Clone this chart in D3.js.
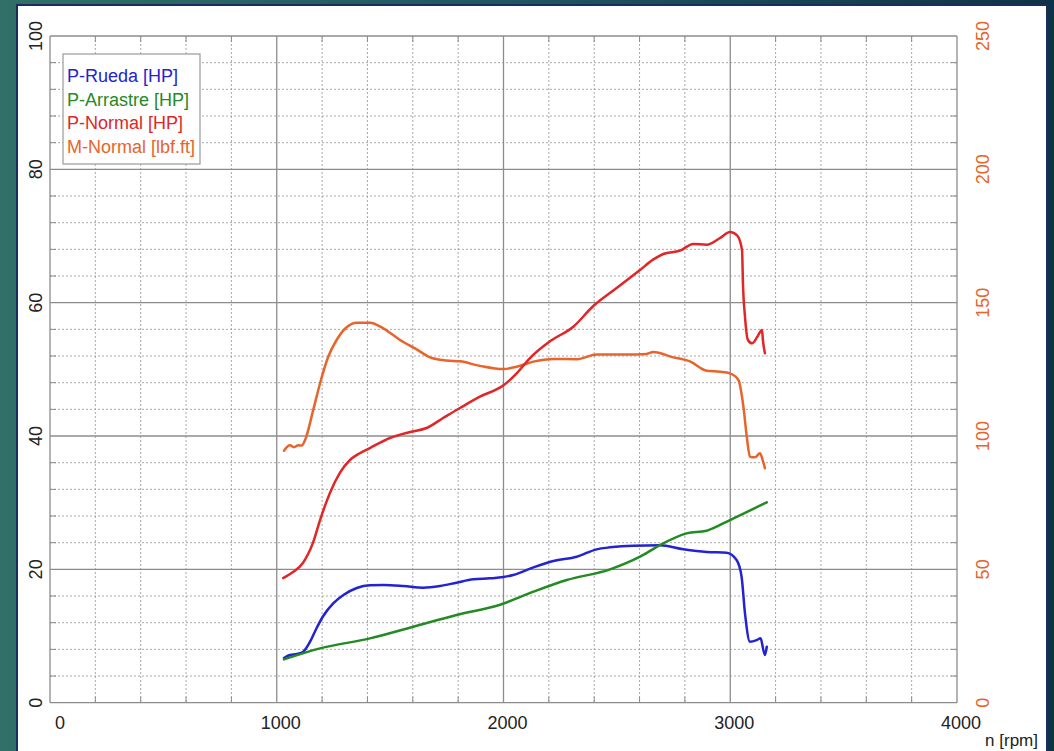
<!DOCTYPE html>
<html><head><meta charset="utf-8">
<script src="https://cdn.jsdelivr.net/npm/d3@7"></script>
<style>html,body{margin:0;padding:0;background:#1f5558;}svg{display:block;}</style>
</head><body>
<svg id="c" width="1054" height="751"></svg>
<script>
// ---- data ----
const xTicks = [0, 1000, 2000, 3000, 4000];
const yLeftTicks = [0, 20, 40, 60, 80, 100];
const yRightTicks = [0, 50, 100, 150, 200, 250];
const legendLabels = ["P-Rueda [HP]", "P-Arrastre [HP]", "P-Normal [HP]", "M-Normal [lbf.ft]"];
const xTitle = "n [rpm]";

const rpmRueda = [1032,1058,1088,1117,1147,1176,1205,1249,1294,1353,1411,1470,1558,1646,1720,1793,1867,1940,2000,2043,2132,2220,2323,2411,2470,2572,2690,2793,2896,2984,3028,3050,3065,3087,3117,3134,3146,3153,3161];
const hpRueda  = [6.7,7.15,7.3,7.65,9.15,11.2,13.0,14.9,16.15,17.2,17.6,17.65,17.5,17.25,17.5,18.0,18.5,18.65,18.85,19.15,20.3,21.25,21.9,23.0,23.3,23.55,23.6,23.0,22.6,22.5,21.4,18.9,13.4,9.15,9.4,9.65,7.9,7.15,8.4];

const rpmArrastre = [1032,1191,1411,1602,1793,1985,2132,2279,2470,2602,2690,2808,2896,2999,3161];
const hpArrastre  = [6.5,8.15,9.65,11.4,13.15,14.7,16.65,18.4,20.0,21.9,23.65,25.4,25.8,27.4,30.05];

const rpmNormal = [1028,1072,1116,1160,1191,1235,1279,1323,1360,1411,1499,1588,1661,1734,1808,1896,2000,2058,2117,2205,2308,2396,2499,2602,2661,2705,2778,2837,2896,2955,2999,3030,3052,3056,3065,3078,3096,3118,3140,3144,3153];
const hpNormal  = [18.7,19.6,21.0,24.0,27.4,31.5,34.5,36.4,37.3,38.2,39.7,40.6,41.2,42.7,44.2,45.9,47.6,49.4,51.7,54.2,56.4,59.5,62.2,64.9,66.5,67.3,67.8,68.8,68.7,69.7,70.6,70.1,67.9,62.9,57.9,54.4,53.9,54.8,55.9,54.4,52.4];

const rpmTorque = [1032,1058,1076,1095,1110,1125,1161,1191,1227,1264,1308,1353,1411,1470,1544,1617,1676,1749,1808,1896,2000,2058,2132,2220,2323,2411,2543,2631,2661,2749,2822,2896,2955,2999,3036,3058,3073,3087,3109,3131,3143,3153];
const lbfTorque = [94.5,96.5,95.8,96.5,96.4,98.5,109.8,119.8,129.7,136.0,140.8,142.5,142.5,140.4,136.0,132.5,129.5,128.3,128.0,126.3,125.1,126.0,127.9,128.9,128.8,130.6,130.6,130.8,131.5,129.5,128.0,124.5,124.1,123.5,121.0,111,99.7,92.2,92.0,93.5,91.0,87.9];

// ---- drawing ----
const svg = d3.select("#c");
const W = 1054, H = 751;
const L = 50, R = 957, T = 36, B = 702.7;

const defs = svg.append("defs");
const g = defs.append("linearGradient").attr("id","bg").attr("x1","0").attr("x2","1").attr("y1","0").attr("y2","0");
g.append("stop").attr("offset","0%").attr("stop-color","#2f7068");
g.append("stop").attr("offset","50%").attr("stop-color","#1f5560");
g.append("stop").attr("offset","100%").attr("stop-color","#0e3346");
svg.append("rect").attr("width",W).attr("height",H).attr("fill","url(#bg)");
svg.append("rect").attr("x",17).attr("y",5).attr("width",1030).attr("height",760)
  .attr("fill","#ffffff").attr("stroke","#1b2d5c").attr("stroke-width",2);

const x = d3.scaleLinear().domain([0,4000]).range([L,R]);
const yL = d3.scaleLinear().domain([0,100]).range([B,T]);
const yR = d3.scaleLinear().domain([0,250]).range([B,T]);

const grid = svg.append("g");
// minor grid
const minorX = d3.range(200,4000,200).filter(v => v % 1000 !== 0);
const minorY = d3.range(4,100,4).filter(v => v % 20 !== 0);
grid.selectAll(".mx").data(minorX).join("line")
  .attr("x1",d=>x(d)).attr("x2",d=>x(d)).attr("y1",T).attr("y2",B)
  .attr("stroke","#a8a8a8").attr("stroke-width",1).attr("stroke-dasharray","2,2");
grid.selectAll(".my").data(minorY).join("line")
  .attr("y1",d=>yL(d)).attr("y2",d=>yL(d)).attr("x1",L).attr("x2",R)
  .attr("stroke","#a8a8a8").attr("stroke-width",1).attr("stroke-dasharray","2,2");
// minor tick marks
minorX.forEach(v=>{
  grid.append("line").attr("x1",x(v)).attr("x2",x(v)).attr("y1",B).attr("y2",B-6).attr("stroke","#8a8a8a");
  grid.append("line").attr("x1",x(v)).attr("x2",x(v)).attr("y1",T).attr("y2",T+6).attr("stroke","#8a8a8a");
});
minorY.forEach(v=>{
  grid.append("line").attr("y1",yL(v)).attr("y2",yL(v)).attr("x1",L).attr("x2",L+6).attr("stroke","#8a8a8a");
  grid.append("line").attr("y1",yL(v)).attr("y2",yL(v)).attr("x1",R).attr("x2",R-6).attr("stroke","#8a8a8a");
});
// major grid
grid.selectAll(".Mx").data(xTicks).join("line")
  .attr("x1",d=>x(d)).attr("x2",d=>x(d)).attr("y1",T).attr("y2",B)
  .attr("stroke","#8c8c8c").attr("stroke-width",1.3);
grid.selectAll(".My").data(yLeftTicks).join("line")
  .attr("y1",d=>yL(d)).attr("y2",d=>yL(d)).attr("x1",L).attr("x2",R)
  .attr("stroke","#8c8c8c").attr("stroke-width",1.3);

// axis labels
const font = "Liberation Sans, Arial, sans-serif";
svg.selectAll(".xl").data(xTicks).join("text")
  .attr("x",d=>x(d)+ (d===0?10:4)).attr("y",729)
  .attr("text-anchor","middle").attr("font-family",font).attr("font-size",18).attr("fill","#222")
  .text(d=>d);
svg.selectAll(".yl").data(yLeftTicks).join("text")
  .attr("transform",d=>`translate(42,${yL(d)}) rotate(-90)`)
  .attr("text-anchor","middle").attr("font-family",font).attr("font-size",18).attr("fill","#222")
  .text(d=>d);
svg.selectAll(".yr").data(yRightTicks).join("text")
  .attr("transform",d=>`translate(989,${yR(d)}) rotate(-90)`)
  .attr("text-anchor","middle").attr("font-family",font).attr("font-size",18).attr("fill","#e8642a")
  .text(d=>d);
svg.append("text").attr("x",1038).attr("y",746).attr("text-anchor","end")
  .attr("font-family",font).attr("font-size",17).attr("fill","#222").text(xTitle);

// lines
const colors = ["#2323d2","#248a24","#e02626","#e8642a"];
const lineL = d3.line().x(d=>x(d[0])).y(d=>yL(d[1])).curve(d3.curveMonotoneX);
const lineR = d3.line().x(d=>x(d[0])).y(d=>yR(d[1])).curve(d3.curveMonotoneX);
const series = [
  {xs: rpmTorque, ys: lbfTorque, gen: lineR, c: colors[3]},
  {xs: rpmNormal, ys: hpNormal, gen: lineL, c: colors[2]},
  {xs: rpmRueda, ys: hpRueda, gen: lineL, c: colors[0]},
  {xs: rpmArrastre, ys: hpArrastre, gen: lineL, c: colors[1]},
];
series.forEach(s=>{
  svg.append("path").datum(d3.zip(s.xs, s.ys)).attr("d", s.gen)
    .attr("fill","none").attr("stroke",s.c).attr("stroke-width",2.5)
    .attr("stroke-linejoin","round").attr("stroke-linecap","round");
});

// legend
const lg = svg.append("g");
lg.append("rect").attr("x",63).attr("y",54).attr("width",137).attr("height",110)
  .attr("fill","#ffffff").attr("stroke","#9a9a9a").attr("stroke-width",1.2);
const legColors = [colors[0], colors[1], colors[2], colors[3]];
lg.selectAll("text").data(legendLabels).join("text")
  .attr("x",67).attr("y",(d,i)=>82 + i*23.7)
  .attr("font-family",font).attr("font-size",18).attr("fill",(d,i)=>legColors[i])
  .text(d=>d);
</script>
</body></html>
